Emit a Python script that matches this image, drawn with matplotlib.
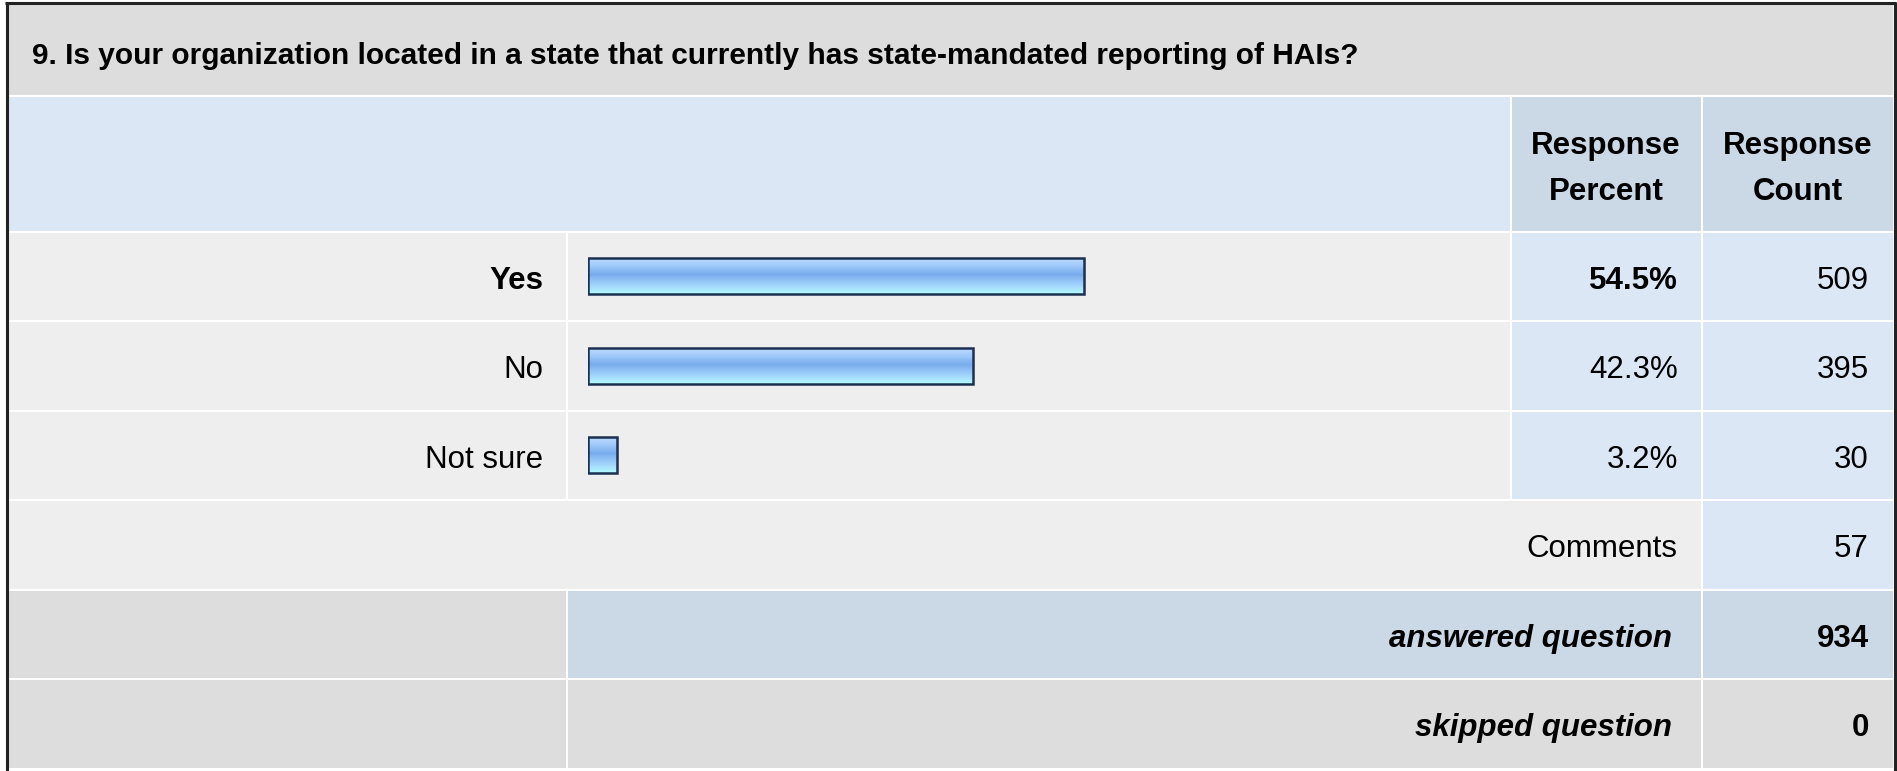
import numpy as np
import matplotlib
matplotlib.use("Agg")
import matplotlib.pyplot as plt
from matplotlib.patches import Rectangle
from matplotlib.colors import LinearSegmentedColormap

# survey data
question = "9. Is your organization located in a state that currently has state-mandated reporting of HAIs?"
answers = ["Yes", "No", "Not sure"]
percents = [54.5, 42.3, 3.2]
counts = [509, 395, 30]
comments_count = 57
answered = 934
skipped = 0

W, H = 1897, 771
plt.rcParams['font.family'] = ['Liberation Sans', 'DejaVu Sans']

GRAY_TITLE = '#dddddd'
BLUE_LIGHT = '#dce7f5'
BLUE_DARK = '#cbd8e6'
GRAY_ROW = '#eeeeee'
FS = 22.5

fig = plt.figure(figsize=(W / 100, H / 100), dpi=100)
fig.patch.set_facecolor('white')
ax = fig.add_axes([0, 0, 1, 1])
ax.set_xlim(0, W)
ax.set_ylim(H, 0)
ax.axis('off')


def cell(x0, x1, y0, y1, color):
    ax.add_patch(Rectangle((x0, y0), x1 - x0, y1 - y0, facecolor=color, edgecolor='none', zorder=1))


# column edges
c1 = (8, 565.5)
c2 = (567.5, 1509.5)
c3 = (1511.5, 1700.5)
c4 = (1702.5, 1892.5)
row0 = 232.5
pitch = 89.5


def row(i):
    return row0 + i * pitch, row0 + (i + 1) * pitch - 2


# title + header
cell(8, 1892.5, 4, 95, GRAY_TITLE)
ax.text(32, 64, question, fontsize=21.5, fontweight='bold', ha='left', va='baseline', zorder=5)
cell(8, c2[1], 97, 230.5, BLUE_LIGHT)
cell(c3[0], c3[1], 97, 230.5, BLUE_DARK)
cell(c4[0], c4[1], 97, 230.5, BLUE_DARK)
for cx, word in [((c3[0] + c3[1]) / 2, 'Percent'), ((c4[0] + c4[1]) / 2, 'Count')]:
    ax.text(cx, 154, 'Response', fontsize=FS, fontweight='bold', ha='center', va='baseline', zorder=5)
    ax.text(cx, 200, word, fontsize=FS, fontweight='bold', ha='center', va='baseline', zorder=5)

# answer rows
for i, (a, p, n) in enumerate(zip(answers, percents, counts)):
    y0, y1 = row(i)
    cell(*c1, y0, y1, GRAY_ROW)
    cell(*c2, y0, y1, GRAY_ROW)
    cell(*c3, y0, y1, BLUE_LIGHT)
    cell(*c4, y0, y1, BLUE_LIGHT)
    base = (y0 + y1) / 2 + 12.5
    is_top = p == max(percents)
    w = 'bold' if is_top else 'normal'
    ax.text(543, base, a, fontsize=FS, fontweight=w, ha='right', va='baseline', zorder=5)
    ax.text(1678, base, f"{p}%", fontsize=FS, fontweight=w, ha='right', va='baseline', zorder=5)
    ax.text(1869, base, str(n), fontsize=FS, ha='right', va='baseline', zorder=5)

# comments row
y0, y1 = row(3)
cell(8, c3[1], y0, y1, GRAY_ROW)
cell(*c4, y0, y1, BLUE_LIGHT)
ax.text(1677, (y0 + y1) / 2 + 12.5, 'Comments', fontsize=FS, ha='right', va='baseline', zorder=5)
ax.text(1869, (y0 + y1) / 2 + 12.5, str(comments_count), fontsize=FS, ha='right', va='baseline', zorder=5)

# answered / skipped rows
for i, label, val, col in [(4, 'answered question', answered, BLUE_DARK),
                           (5, 'skipped question', skipped, GRAY_TITLE)]:
    y0, y1 = row(i)
    cell(*c1, y0, y1, GRAY_TITLE)
    cell(c2[0], c3[1], y0, y1, col)
    cell(*c4, y0, y1, col)
    base = (y0 + y1) / 2 + 12.5
    ax.text(1672, base, label, fontsize=FS, fontweight='bold', fontstyle='italic',
            ha='right', va='baseline', zorder=5)
    ax.text(1869, base, str(val), fontsize=FS, fontweight='bold', ha='right', va='baseline', zorder=5)

# outer border
ax.plot([6.5, 6.5], [2, H], color='#222222', lw=2.2, zorder=6, solid_capstyle='butt')
ax.plot([5, 1896], [2.5, 2.5], color='#222222', lw=2.2, zorder=6, solid_capstyle='butt')
ax.plot([1894.5, 1894.5], [2, H], color='#222222', lw=2.2, zorder=6, solid_capstyle='butt')

# bars in their own axes, 0-100 %
bx0, bx1 = 588, 1498
bax = fig.add_axes([bx0 / W, 1 - (row0 + 3 * pitch - 1) / H, (bx1 - bx0) / W, 3 * pitch / H])
bax.axis('off')
bax.patch.set_alpha(0)

grad = LinearSegmentedColormap.from_list('bar', [
    (0.0, '#bcdbff'), (0.2, '#a2cbfb'), (0.45, '#77aceb'),
    (0.62, '#92c2f6'), (0.82, '#a8dcfc'), (1.0, '#b2fcff')])
gimg = np.linspace(0, 1, 64).reshape(-1, 1)

bars = bax.barh(range(len(answers)), percents, height=0.40, facecolor='none',
                edgecolor='#1b3050', linewidth=1.8, zorder=3)
for b in bars:
    x, y = b.get_x(), b.get_y()
    im = bax.imshow(gimg, cmap=grad, aspect='auto', interpolation='bilinear',
                    extent=(x, x + b.get_width(), y + b.get_height(), y), zorder=2)
    im.set_clip_path(b)
bax.set_xlim(0, 100)
bax.set_ylim(len(answers) - 0.5, -0.5)

fig.savefig('out.png', dpi=100, facecolor='white')
